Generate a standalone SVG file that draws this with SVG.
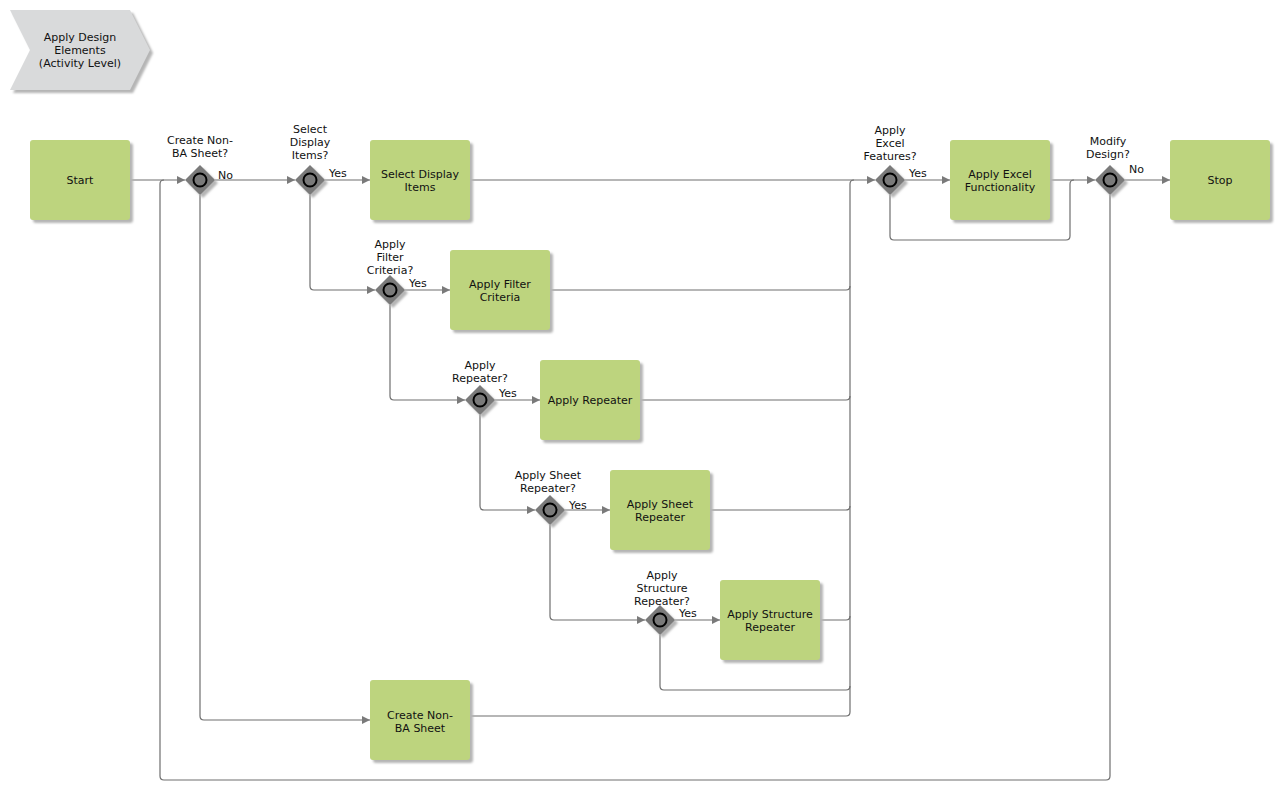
<svg xmlns="http://www.w3.org/2000/svg" width="1280" height="791" viewBox="0 0 1280 791">
<style>
text{font-family:"DejaVu Sans",Verdana,sans-serif;font-size:11px;fill:#111;text-anchor:middle}
.box{fill:#bdd47e}
.sh{fill:#b5b5b5;filter:url(#blur)}
.dia{fill:#7a7a7a}
.circ{fill:#7a7a7a;stroke:#000;stroke-width:2}
.c{fill:none;stroke:#6e6e6e;stroke-width:1.2}
.lbl{text-anchor:start}
</style>
<defs>
<filter id="blur" x="-10%" y="-10%" width="130%" height="130%"><feGaussianBlur stdDeviation="1.2"/></filter>
<marker id="ar" viewBox="0 0 10 10" refX="10" refY="5" markerWidth="10" markerHeight="8" markerUnits="userSpaceOnUse" orient="auto"><path d="M0,0 L10,5 L0,10 z" fill="#7a7a7a"/></marker>
</defs>
<g id="title">
<polygon points="13,13 133,13 153,53 133,93 13,93 33,53" class="sh"/>
<polygon points="10,10 130,10 150,50 130,90 10,90 30,50" fill="#d9dadb"/>
<text x="80" y="41">Apply Design</text>
<text x="80" y="54">Elements</text>
<text x="80" y="67">(Activity Level)</text>
</g>
<g id="connectors">
<path class="c" d="M130,180 H185" marker-end="url(#ar)"/>
<path class="c" d="M215,180 H295" marker-end="url(#ar)"/>
<path class="c" d="M200,195 V716 Q200,720 204,720 H370" marker-end="url(#ar)"/>
<path class="c" d="M325,180 H370" marker-end="url(#ar)"/>
<path class="c" d="M310,195 V286 Q310,290 314,290 H375" marker-end="url(#ar)"/>
<path class="c" d="M405,290 H450" marker-end="url(#ar)"/>
<path class="c" d="M390,305 V396 Q390,400 394,400 H465" marker-end="url(#ar)"/>
<path class="c" d="M495,400 H540" marker-end="url(#ar)"/>
<path class="c" d="M480,415 V506 Q480,510 484,510 H535" marker-end="url(#ar)"/>
<path class="c" d="M565,510 H610" marker-end="url(#ar)"/>
<path class="c" d="M550,525 V616 Q550,620 554,620 H645" marker-end="url(#ar)"/>
<path class="c" d="M675,620 H720" marker-end="url(#ar)"/>
<path class="c" d="M660,635 V686 Q660,690 664,690 H846 Q850,690 850,686"/>
<path class="c" d="M470,180 H875" marker-end="url(#ar)"/>
<path class="c" d="M550,290 H846 Q850,290 850,286"/>
<path class="c" d="M640,400 H846 Q850,400 850,396"/>
<path class="c" d="M710,510 H846 Q850,510 850,506"/>
<path class="c" d="M820,620 H846 Q850,620 850,616"/>
<path class="c" d="M470,716 H846 Q850,716 850,712 V184 Q850,180 854,180"/>
<path class="c" d="M905,180 H950" marker-end="url(#ar)"/>
<path class="c" d="M890,195 V236 Q890,240 894,240 H1066 Q1070,240 1070,236 V184 Q1070,180 1074,180"/>
<path class="c" d="M1050,180 H1095" marker-end="url(#ar)"/>
<path class="c" d="M1125,180 H1170" marker-end="url(#ar)"/>
<path class="c" d="M1110,195 V776 Q1110,780 1106,780 H164 Q160,780 160,776 V184 Q160,180 164,180"/>
<text class="lbl" x="218" y="179">No</text>
<text class="lbl" x="329" y="177">Yes</text>
<text class="lbl" x="409" y="287">Yes</text>
<text class="lbl" x="499" y="397">Yes</text>
<text class="lbl" x="569" y="509">Yes</text>
<text class="lbl" x="679" y="617">Yes</text>
<text class="lbl" x="909" y="177">Yes</text>
<text class="lbl" x="1129" y="173">No</text>
</g>
<g id="start"><rect x="33" y="143" width="100" height="80" rx="3" class="sh"/><rect x="30" y="140" width="100" height="80" rx="3" class="box"/><text x="80" y="184">Start</text></g>
<g id="select-display-items"><rect x="373" y="143" width="100" height="80" rx="3" class="sh"/><rect x="370" y="140" width="100" height="80" rx="3" class="box"/><text x="420" y="178">Select Display</text><text x="420" y="191">Items</text></g>
<g id="apply-filter-criteria"><rect x="453" y="253" width="100" height="80" rx="3" class="sh"/><rect x="450" y="250" width="100" height="80" rx="3" class="box"/><text x="500" y="288">Apply Filter</text><text x="500" y="301">Criteria</text></g>
<g id="apply-repeater"><rect x="543" y="363" width="100" height="80" rx="3" class="sh"/><rect x="540" y="360" width="100" height="80" rx="3" class="box"/><text x="590" y="404">Apply Repeater</text></g>
<g id="apply-sheet-repeater"><rect x="613" y="473" width="100" height="80" rx="3" class="sh"/><rect x="610" y="470" width="100" height="80" rx="3" class="box"/><text x="660" y="508">Apply Sheet</text><text x="660" y="521">Repeater</text></g>
<g id="apply-structure-repeater"><rect x="723" y="583" width="100" height="80" rx="3" class="sh"/><rect x="720" y="580" width="100" height="80" rx="3" class="box"/><text x="770" y="618">Apply Structure</text><text x="770" y="631">Repeater</text></g>
<g id="create-non-ba-sheet"><rect x="373" y="683" width="100" height="80" rx="3" class="sh"/><rect x="370" y="680" width="100" height="80" rx="3" class="box"/><text x="420" y="719">Create Non-</text><text x="420" y="732">BA Sheet</text></g>
<g id="apply-excel-functionality"><rect x="953" y="143" width="100" height="80" rx="3" class="sh"/><rect x="950" y="140" width="100" height="80" rx="3" class="box"/><text x="1000" y="178">Apply Excel</text><text x="1000" y="191">Functionality</text></g>
<g id="stop"><rect x="1173" y="143" width="100" height="80" rx="3" class="sh"/><rect x="1170" y="140" width="100" height="80" rx="3" class="box"/><text x="1220" y="184">Stop</text></g>
<g id="gw-create-non-ba"><polygon points="203,168 218,183 203,198 188,183" class="sh"/><polygon points="200,165 215,180 200,195 185,180" class="dia"/><circle cx="200" cy="180" r="6.5" class="circ"/><text x="200" y="144">Create Non-</text><text x="200" y="157">BA Sheet?</text></g>
<g id="gw-select-display"><polygon points="313,168 328,183 313,198 298,183" class="sh"/><polygon points="310,165 325,180 310,195 295,180" class="dia"/><circle cx="310" cy="180" r="6.5" class="circ"/><text x="310" y="133">Select</text><text x="310" y="146">Display</text><text x="310" y="159">Items?</text></g>
<g id="gw-filter"><polygon points="393,278 408,293 393,308 378,293" class="sh"/><polygon points="390,275 405,290 390,305 375,290" class="dia"/><circle cx="390" cy="290" r="6.5" class="circ"/><text x="390" y="248">Apply</text><text x="390" y="261">Filter</text><text x="390" y="274">Criteria?</text></g>
<g id="gw-repeater"><polygon points="483,388 498,403 483,418 468,403" class="sh"/><polygon points="480,385 495,400 480,415 465,400" class="dia"/><circle cx="480" cy="400" r="6.5" class="circ"/><text x="480" y="369">Apply</text><text x="480" y="382">Repeater?</text></g>
<g id="gw-sheet-repeater"><polygon points="553,498 568,513 553,528 538,513" class="sh"/><polygon points="550,495 565,510 550,525 535,510" class="dia"/><circle cx="550" cy="510" r="6.5" class="circ"/><text x="548" y="479">Apply Sheet</text><text x="548" y="492">Repeater?</text></g>
<g id="gw-structure-repeater"><polygon points="663,608 678,623 663,638 648,623" class="sh"/><polygon points="660,605 675,620 660,635 645,620" class="dia"/><circle cx="660" cy="620" r="6.5" class="circ"/><text x="662" y="579">Apply</text><text x="662" y="592">Structure</text><text x="662" y="605">Repeater?</text></g>
<g id="gw-excel"><polygon points="893,168 908,183 893,198 878,183" class="sh"/><polygon points="890,165 905,180 890,195 875,180" class="dia"/><circle cx="890" cy="180" r="6.5" class="circ"/><text x="890" y="134">Apply</text><text x="890" y="147">Excel</text><text x="890" y="160">Features?</text></g>
<g id="gw-modify"><polygon points="1113,168 1128,183 1113,198 1098,183" class="sh"/><polygon points="1110,165 1125,180 1110,195 1095,180" class="dia"/><circle cx="1110" cy="180" r="6.5" class="circ"/><text x="1108" y="145">Modify</text><text x="1108" y="158">Design?</text></g>
</svg>
